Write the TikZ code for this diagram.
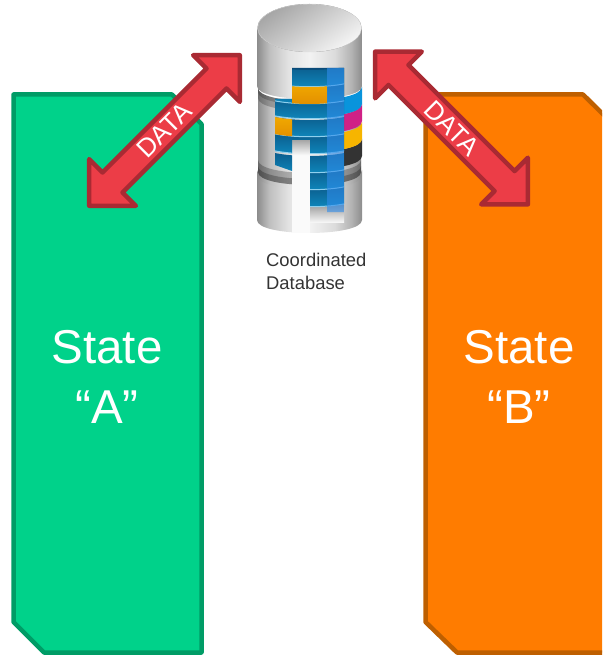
\documentclass[tikz,border=0pt]{standalone}
\usepackage{fontspec}
\setmainfont{Liberation Sans}
\usetikzlibrary{shapes.arrows}

\definecolor{stateGreen}{HTML}{00D28A}
\definecolor{stateGreenLine}{HTML}{009C66}
\definecolor{stateOrange}{HTML}{FF7C00}
\definecolor{stateOrangeLine}{HTML}{BE5F00}
\definecolor{dataRed}{HTML}{EC3D47}
\definecolor{dataRedLine}{HTML}{A92A33}
\definecolor{slabDark}{HTML}{0A4A78}
\definecolor{slabLight}{HTML}{0F8FC4}
\definecolor{slabBlue}{HTML}{2F8CEB}
\definecolor{slabEdge}{HTML}{8FD0EE}
\definecolor{amberDark}{HTML}{E08A00}
\definecolor{amberLight}{HTML}{F7B500}

\pgfdeclarehorizontalshading{silver}{100bp}{
  color(0bp)=(gray!90); color(25bp)=(gray!90); color(31bp)=(gray!50); color(40bp)=(gray!22);
  color(50bp)=(gray!10); color(62bp)=(gray!28); color(70bp)=(gray!60); color(75bp)=(gray!90);
  color(100bp)=(gray!90)}

% one slab of the cylinder, sagging like the rim of a disc
\newcommand{\dbslab}[6]{%
  \path[#6] (#1,#3) .. controls (#1,#3+#5*1.33) and (#2,#3+#5*1.33) .. (#2,#3)
    -- (#2,#4) .. controls (#2,#4+#5*1.33) and (#1,#4+#5*1.33) .. (#1,#4) -- cycle;}

\tikzset{
  statebox/.style={line width=4.5pt, line join=round},
  statelabel/.style={text=white, align=center, inner sep=0pt,
    font=\fontsize{47.5}{60}\selectfont},
  dataarrow/.style={shape=double arrow, draw=dataRedLine, fill=dataRed, line width=4.5pt,
    line join=round, double arrow head extend=15pt, minimum width=66pt, inner sep=0pt,
    double arrow tip angle=90, text=white, font=\fontsize{26}{28}\selectfont},
}

\begin{document}
\begin{tikzpicture}[x=1pt, y=-1pt]
    \useasboundingbox (0,0) rectangle (602,655);
    \clip (0,0) rectangle (602,655);

    % States
    \draw[statebox, draw=stateGreenLine, fill=stateGreen] (13.5,94.5) -- (172,94.5) -- (201.5,124)
        -- (201.5,652.5) -- (44,652.5) -- (13.5,622) -- cycle;
    \draw[statebox, draw=stateOrangeLine, fill=stateOrange] (425.5,94.5) -- (583,94.5) -- (613,124)
        -- (613,652.5) -- (457,652.5) -- (425.5,622) -- cycle;
    \node[statelabel] (StateA) at (107,377) {State\\“A”};
    \node[statelabel] (StateB) at (519,377) {State\\“B”};

    % Database body
    \dbslab{257}{362}{170}{220}{13}{shade, shading=silver}
    \dbslab{258}{361}{88}{176}{13}{shade, shading=silver}
    \dbslab{258}{361}{88}{98}{13}{fill=black, opacity=.22}
    \dbslab{258}{361}{88}{92}{13}{fill=black, opacity=.2}
    \dbslab{258}{361}{160}{172}{13}{fill=black, opacity=.25}
    \dbslab{258}{361}{166}{172}{13}{fill=black, opacity=.25}
    \dbslab{257}{362}{28}{86}{13}{shade, shading=silver}
    \fill[top color=gray!70, bottom color=gray!8, shading angle=35, draw=gray!25]
        (309.5,28) ellipse (52 and 24);

    % Inner core below the slabs
    \shade[top color=gray!70, bottom color=white] (292,140) rectangle (310,156);
    \fill[white!96!gray] (292,156) rectangle (310,233);
    \shade[top color=gray!75, bottom color=white!92!gray] (310,205) rectangle (344,222);

    % Coloured rims
    \begin{scope}
        \clip (344,80) rectangle (362,170);
        \dbslab{257}{362}{139}{156}{13}{fill=black!80}
        \dbslab{257}{362}{122}{139}{13}{fill=amberLight}
        \dbslab{257}{362}{104}{121}{13}{fill=magenta!85!black}
        \dbslab{257}{362}{87}{104}{13}{fill=cyan!80!blue}
    \end{scope}

    % Slabs
    \begin{scope}
        \clip (292,68) -- (344,68) -- (344,212) -- (310,212) -- (310,140) -- (292,140)
            -- (292,171) -- (275,165) -- (275,99) -- (292,99) -- cycle;
        \fill[slabDark] (270,60) rectangle (350,100);
        \foreach \ybot in {194,177,160,141,124,106,91,74} {
            \dbslab{257}{362}{\ybot-17}{\ybot}{13}{shade, top color=slabDark, bottom color=slabLight}
            \draw[slabEdge, line width=1pt] (257,\ybot) .. controls (257,\ybot+17) and (362,\ybot+17) .. (362,\ybot);
        }
        \begin{scope}
            \clip (292,80) rectangle (327,106);
            \dbslab{257}{362}{74}{91}{13}{shade, top color=amberLight, bottom color=amberDark}
        \end{scope}
        \begin{scope}
            \clip (275,115) rectangle (292,140);
            \dbslab{257}{362}{107}{124}{13}{shade, top color=amberLight, bottom color=amberDark}
        \end{scope}
        \fill[slabBlue, opacity=.6] (327,60) rectangle (344,215);
    \end{scope}

    \node[align=left, anchor=west, inner sep=0pt, text=black!80,
        font=\fontsize{18.4}{23}\selectfont] (DbLabel) at (266,271) {Coordinated\\Database};

    % Paths
    \node[dataarrow, rotate=45, minimum height=213pt] (DataA) at (164.5,130.5) {DATA};
    \node[dataarrow, rotate=-45, minimum height=216pt] (DataB) at (451.5,128) {DATA};
\end{tikzpicture}
\end{document}
